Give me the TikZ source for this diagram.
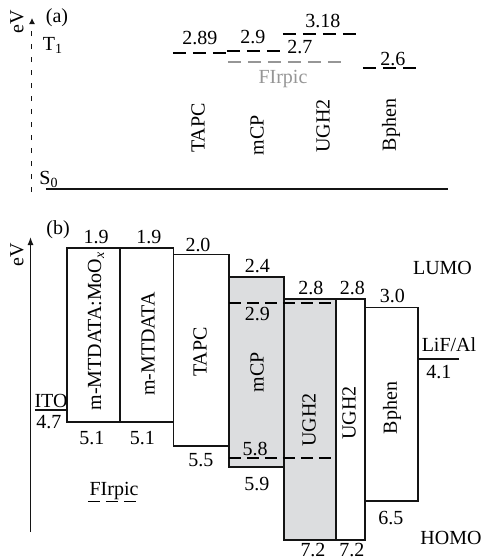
\documentclass[tikz,border=0pt]{standalone}
\usepackage{fontspec}
\setmainfont{Liberation Serif}
\usetikzlibrary{arrows.meta}
\definecolor{axiscol}{RGB}{20,20,20}
\definecolor{hostcol}{RGB}{220,221,223}
\definecolor{dopantcol}{RGB}{150,150,150}

\begin{document}
\begin{tikzpicture}[
    x=0.5pt, y=-0.5pt,
    >=Latex,
    line width=0.8pt,
    triplet/.style={line width=1pt, dash pattern=on 6.5pt off 3.5pt},
    layer/.style={draw=axiscol, line width=0.8pt},
    split/.style={line width=0.8pt, dash pattern=on 6pt off 3pt},
    vert/.style={rotate=90, inner sep=0pt}
  ]
  \useasboundingbox (0,0) rectangle (482,559);

  % --- (a) triplet levels ----------------------------------------------
  \coordinate (AxisABot) at (32,192);
  \coordinate (AxisATop) at (32,18);
  \draw[axiscol, line width=0.5pt, dash pattern=on 2.5pt off 4pt, -{Latex[length=3pt,width=3pt]}] (AxisABot) -- (AxisATop);
  \node[rotate=90] (evA) at (17,22) {eV};
  \node (tagA) at (57,18) {(a)};
  \node (tOne) at (53,45) {T\textsubscript{1}};
  \node (sZero) at (49,179) {S\textsubscript{0}};

  \draw[axiscol, line width=1pt] (46,189) -- (448,189);

  \draw[triplet] (173,53) -- (227,53);
  \draw[triplet] (227,51) -- (281,51);
  \draw[triplet] (283,34) -- (361,34);
  \draw[triplet, dopantcol] (228,62) -- (346,62);
  \draw[triplet] (363,68) -- (417,68);

  \node (tapcT) at (200,38) {2.89};
  \node (mcpT) at (253,37) {2.9};
  \node (ughT) at (323,21) {3.18};
  \node (firT) at (300,47) {2.7};
  \node (bphT) at (393,59) {2.6};
  \node[dopantcol] (firA) at (283,79) {FIrpic};

  \node[rotate=90] (tapcA) at (198,128) {TAPC};
  \node[rotate=90] (mcpA) at (257,135) {mCP};
  \node[rotate=90] (ughA) at (323,126) {UGH2};
  \node[rotate=90] (bphA) at (391,125) {Bphen};

  % --- (b) HOMO/LUMO levels --------------------------------------------
  \coordinate (AxisBBot) at (30.5,532);
  \coordinate (AxisBTop) at (30.5,237);
  \draw[axiscol, line width=0.6pt, -{Latex[length=4pt,width=3pt]}] (AxisBBot) -- (AxisBTop);
  \node[rotate=90] (evB) at (17,255) {eV};
  \node (tagB) at (58,230) {(b)};

  % host layers (gray)
  \fill[hostcol] (229,277) rectangle (284,467);
  \fill[hostcol] (284,299) rectangle (336,540);

  \draw[layer] (67,248) rectangle (120,422);
  \draw[layer] (120,248) rectangle (173.5,422);
  \draw[layer] (173.5,254.5) rectangle (229,446);
  \draw[layer] (229,277) rectangle (284,467);
  \draw[layer] (284,299) rectangle (336,540);
  \draw[layer] (336,299) rectangle (365,540);
  \draw[layer] (365,307.5) rectangle (418,501);

  % electrodes
  \draw[layer] (35,410) -- (67,410);
  \draw[layer] (418,359) -- (459,359);

  % dopant levels inside the host
  \draw[split] (229,303) -- (336,303);
  \draw[split] (229,458) -- (336,458);

  % energy values
  \node (lu1) at (96,237) {1.9};
  \node (lu2) at (149,237) {1.9};
  \node (lu3) at (198,245) {2.0};
  \node (lu4) at (257.5,266) {2.4};
  \node (lu5) at (311,287.5) {2.8};
  \node (lu6) at (352.5,287.5) {2.8};
  \node (lu7) at (392.5,296) {3.0};
  \node (luF) at (257.5,314) {2.9};
  \node (ho1) at (92,438) {5.1};
  \node (ho2) at (142.5,438) {5.1};
  \node (ho3) at (201,460) {5.5};
  \node (hoF) at (255,449) {5.8};
  \node (ho4) at (257,484) {5.9};
  \node (ho7) at (391,518) {6.5};
  \node (ho5) at (313,550) {7.2};
  \node (ho6) at (352,550) {7.2};

  \node (ito) at (51,401) {ITO};
  \node (itoV) at (49,422) {4.7};
  \node (lif) at (449,345) {LiF/Al};
  \node (lifV) at (439,372) {4.1};
  \node (lumo) at (442.5,267.5) {LUMO};
  \node (homo) at (451,537.5) {HOMO};

  % layer names
  \node[vert] (hil) at (96,331) {m-MTDATA:MoO\textsubscript{\textit{x}}};
  \node[vert] (htl) at (148,344) {m-MTDATA};
  \node[vert] (tapcB) at (200,352) {TAPC};
  \node[vert] (mcpB) at (257,372) {mCP};
  \node[vert] (ughB) at (309,420) {UGH2};
  \node[vert] (ughC) at (349,413) {UGH2};
  \node[vert] (bphB) at (392,408) {Bphen};

  % legend
  \node[inner sep=0pt] (firB) at (114,491) {FIrpic};
  \draw[split] (88,501.5) -- (140,501.5);

\end{tikzpicture}
\end{document}
